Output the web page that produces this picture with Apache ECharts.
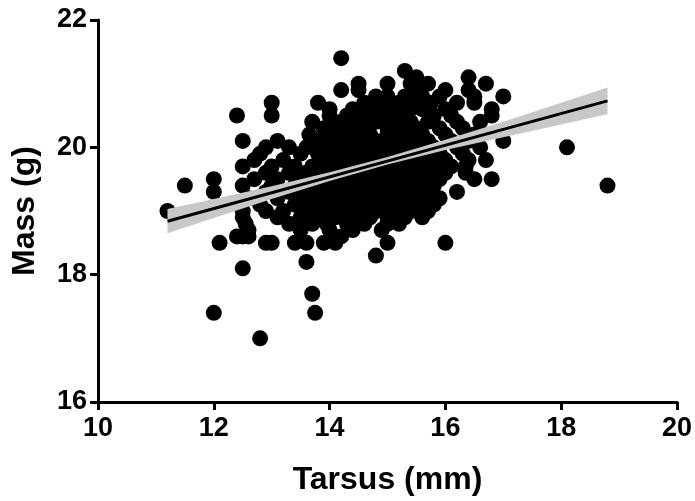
<!DOCTYPE html>
<html>
<head>
<meta charset="utf-8">
<script src="https://cdn.jsdelivr.net/npm/echarts@6/dist/echarts.min.js"></script>
<style>
html, body { margin: 0; padding: 0; background: #fff; }
#chart { width: 695px; height: 501px; }
</style>
</head>
<body>
<div id="chart"></div>
<script>
// mass levels (g), one row of birds per level
const massRows = [
    21.4, 21.2, 21.1, 21.0, 20.9, 20.8, 20.7, 20.6, 20.5, 20.4,
    20.3, 20.2, 20.1, 20.0, 19.9, 19.8, 19.7, 19.6, 19.5, 19.4,
    19.3, 19.2, 19.1, 19.0, 18.9, 18.8, 18.7, 18.6, 18.5, 18.3,
    18.2, 18.1, 17.7, 17.4, 17.0
]
// tarsus (mm) of the birds on each mass row
const tarsusRows = [
    [14.2],
    [15.3],
    [15.5, 16.4],
    [14.5, 15.0, 15.4, 15.7, 16.7],
    [14.2, 14.5, 15.5, 16.0, 16.4],
    [14.8, 15.0, 15.3, 15.6, 15.9, 16.5, 17.0],
    [13.0, 13.8, 14.6, 14.9, 15.2, 15.5, 15.75, 16.2, 16.5],
    [14.0, 14.4, 14.7, 15.1, 15.4, 15.6, 16.0, 16.8],
    [12.4, 13.0, 14.0, 14.3, 14.6, 14.9, 15.3, 15.8, 16.1, 16.8],
    [13.7, 14.2, 14.5, 14.8, 15.1, 15.4, 15.7, 16.2, 16.6],
    [13.9, 14.1, 14.4, 14.6, 15.0, 15.2, 15.5, 15.9, 16.3],
    [13.65, 14.0, 14.3, 14.5, 14.7, 15.0, 15.3, 15.6, 16.0, 16.5],
    [12.5, 13.1, 13.8, 14.2, 14.5, 14.8, 15.1, 15.4, 15.7, 16.1, 16.4, 17.0],
    [12.9, 13.3, 13.6, 14.0, 14.3, 14.6, 14.9, 15.2, 15.5, 15.8, 16.2, 16.6, 18.1],
    [12.8, 13.5, 13.8, 14.1, 14.4, 14.7, 15.0, 15.3, 15.6, 15.9, 16.3],
    [12.7, 13.2, 13.9, 14.2, 14.5, 14.8, 15.1, 15.4, 15.7, 16.0, 16.4, 16.7],
    [12.5, 13.0, 13.4, 13.7, 14.0, 14.3, 14.6, 14.9, 15.2, 15.5, 15.8, 16.1, 16.35],
    [12.9, 13.3, 13.6, 13.9, 14.2, 14.5, 14.8, 15.1, 15.4, 15.7, 16.0, 16.35],
    [12.0, 12.7, 13.1, 13.5, 13.8, 14.1, 14.4, 14.7, 15.0, 15.3, 15.6, 15.9, 16.5, 16.8],
    [11.5, 12.5, 13.0, 13.4, 13.7, 14.0, 14.3, 14.6, 14.9, 15.2, 15.5, 15.8, 18.8],
    [12.0, 12.9, 13.3, 13.6, 13.9, 14.2, 14.5, 14.8, 15.1, 15.4, 15.7, 16.2],
    [12.6, 13.1, 13.5, 13.8, 14.1, 14.4, 14.7, 15.0, 15.3, 15.6, 15.9],
    [12.8, 13.4, 13.7, 14.0, 14.3, 14.6, 14.9, 15.2, 15.5, 15.8],
    [11.2, 12.5, 12.9, 13.2, 13.6, 13.9, 14.2, 14.5, 14.8, 15.1, 15.4, 15.7],
    [12.5, 13.1, 13.5, 13.8, 14.1, 14.4, 14.7, 15.0, 15.3, 15.6],
    [12.55, 13.3, 13.45, 13.7, 13.95, 14.3, 14.6, 15.0, 15.2],
    [12.6, 13.5, 14.0, 14.4, 14.9],
    [12.4, 12.5, 12.6, 14.2],
    [12.1, 12.9, 13.0, 13.4, 13.6, 13.9, 14.1, 15.0, 16.0],
    [14.8],
    [13.6],
    [12.5],
    [13.7],
    [12.0, 13.75],
    [12.8]
]

// fitted regression line and its confidence band
const fitX = [11.2, 18.8]
const fitY = [18.84, 20.73]
const ciX = [11.2, 12, 13, 14, 15, 16, 17, 18, 18.8]
const ciLow = [18.65, 18.89, 19.19, 19.47, 19.73, 19.96, 20.16, 20.36, 20.52]
const ciHigh = [19.03, 19.19, 19.39, 19.61, 19.85, 20.12, 20.40, 20.70, 20.94]

let points = []
massRows.forEach((m, i) => {
    tarsusRows[i].forEach(t => points.push([t, m]))
})

const font = 'Liberation Sans, Arial, sans-serif'
const axisCommon = {
    type: 'value',
    nameLocation: 'middle',
    nameTextStyle: { color: '#000', fontSize: 32, fontWeight: 'bold', fontFamily: font },
    axisLine: { show: true, lineStyle: { color: '#000', width: 3 } },
    axisTick: { show: true, length: 8, lineStyle: { color: '#000', width: 3 } },
    axisLabel: { color: '#000', fontSize: 27, fontWeight: 'bold', fontFamily: font },
    splitLine: { show: false }
}

let chart = echarts.init(document.getElementById('chart'))
chart.setOption({
    backgroundColor: '#fff',
    animation: false,
    grid: { left: 98, right: 17, top: 20, bottom: 97 },
    xAxis: Object.assign({}, axisCommon, {
        min: 10, max: 20, interval: 2,
        name: 'Tarsus (mm)', nameGap: 62,
        axisLabel: Object.assign({}, axisCommon.axisLabel, { margin: 13 })
    }),
    yAxis: Object.assign({}, axisCommon, {
        min: 16, max: 22, interval: 2,
        name: 'Mass (g)', nameGap: 57,
        axisLabel: Object.assign({}, axisCommon.axisLabel, { margin: 11 })
    }),
    series: [
        {
            type: 'scatter',
            data: points,
            symbol: 'circle',
            symbolSize: 16,
            itemStyle: { color: '#000', opacity: 1 },
            z: 2
        },
        {
            type: 'custom',
            data: ciX.map((x, i) => [x, ciLow[i], ciHigh[i]]),
            encode: { x: 0, y: [1, 2] },
            renderItem(params, api) {
                if (params.dataIndex !== 0) return
                let pts = []
                for (let i = 0; i < ciX.length; i++) pts.push(api.coord([ciX[i], ciHigh[i]]))
                for (let i = ciX.length - 1; i >= 0; i--) pts.push(api.coord([ciX[i], ciLow[i]]))
                return { type: 'polygon', shape: { points: pts }, style: { fill: '#c8c8c8' } }
            },
            z: 3
        },
        {
            type: 'line',
            data: fitX.map((x, i) => [x, fitY[i]]),
            symbol: 'none',
            lineStyle: { color: '#000', width: 3 },
            z: 4
        }
    ]
})
</script>
</body>
</html>
